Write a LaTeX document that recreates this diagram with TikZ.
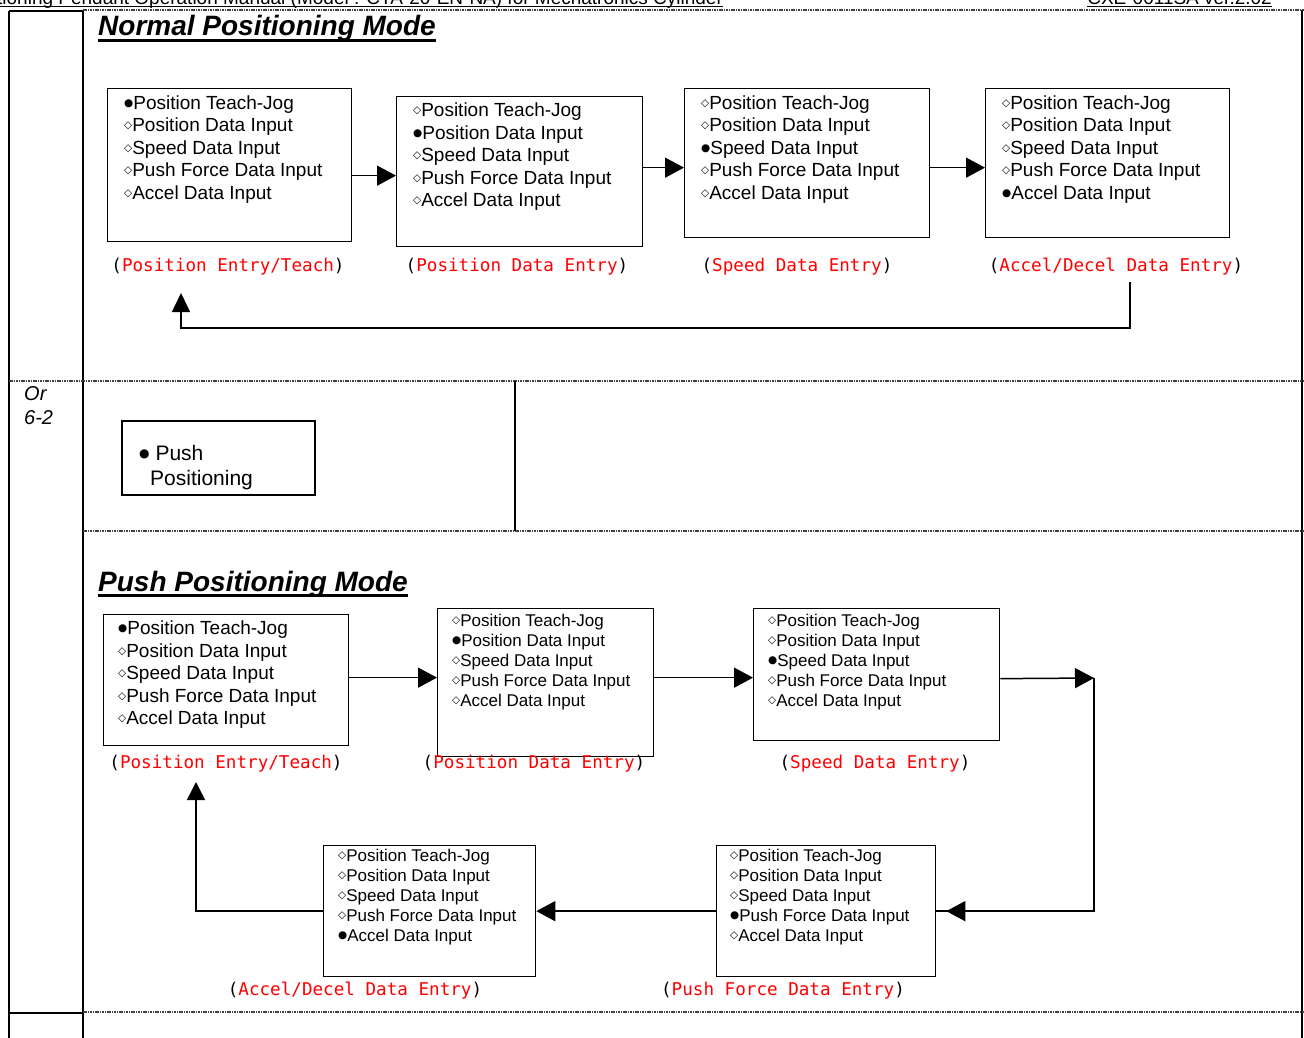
\documentclass[tikz,border=0pt]{standalone}
\usepackage{fontspec}
\setmainfont{Liberation Sans}
\newfontfamily\monof{DejaVu Sans Mono}
\newfontfamily\symf{DejaVu Sans}
\usetikzlibrary{arrows.meta,calc}
\newcommand\bon{\raisebox{0.3ex}{\symf\fontsize{10.5}{10.5}\selectfont ●}}
\newcommand\boff{\raisebox{0.3ex}{\symf\fontsize{10.5}{10.5}\selectfont ◇}}
\newcommand\lblred[1]{(\textcolor{red}{#1})}
\begin{document}
\begin{tikzpicture}[x=1pt,y=-1pt,
 box/.style={draw, line width=1.3pt, inner sep=0pt, anchor=north west},
 txl/.style={anchor=north west, inner sep=0pt, align=left, font=\fontsize{19}{22.5}\selectfont},
 txs/.style={anchor=north west, inner sep=0pt, align=left, font=\fontsize{17}{20}\selectfont},
 lbl/.style={inner sep=0pt, font=\monof\fontsize{17.6}{20}\selectfont},
 arr/.style={line width=1.5pt, -{Triangle[length=19pt,width=20pt]}},
 conn/.style={line width=1.5pt},
 solidl/.style={line width=2pt},
 dotl/.style={line width=1.6pt, black!75, dash pattern=on 1.6pt off 0.8pt},
 title/.style={inner sep=0pt, anchor=base west, font=\bfseries\itshape\fontsize{28}{32}\selectfont},
 plain/.style={inner sep=0pt, anchor=base west},
]
\useasboundingbox (0,0) rectangle (1304,1038);
\begin{scope}
\clip (0,0) rectangle (1304,1038);
% header
\node[plain, font=\fontsize{19}{20}\selectfont] (hd1) at (-40,4.5) {Positioning Pendant Operation Manual (Model : CTA-20-EN-NA) for Mechatronics Cylinder};
\draw[line width=1.3pt] ([yshift=-2pt]hd1.base west) -- ([yshift=-2pt]hd1.base east);
\node[plain, anchor=base east, font=\fontsize{19}{20}\selectfont] (hd2) at (1272,4.5) {CXE-0011SA ver.2.02};
\draw[line width=1.3pt] ([yshift=-2pt]hd2.base west) -- ([yshift=-2pt]hd2.base east);

% table lines
\draw[solidl] (9,11) -- (9,1038);
\draw[solidl] (83,11) -- (83,1038);
\draw[solidl] (9,11) -- (83,11);
\draw[solidl] (9,1013) -- (83,1013);
\draw[line width=1.5pt] (1302,10) -- (1302,1038);
\draw[dotl] (83,10) -- (1304,10);
\draw[dotl] (9,381) -- (1304,381);
\draw[dotl] (83,531) -- (1304,531);
\draw[dotl] (83,1012) -- (1304,1012);
\draw[line width=1.5pt] (515,381) -- (515,531);
\end{scope}

% left column text
\node[plain, font=\itshape\fontsize{20}{24}\selectfont] (or) at (24,400) {Or};
\node[plain, font=\itshape\fontsize{20}{24}\selectfont] (six) at (24,424) {6-2};

% titles
\node[title] (t1) at (98,36) {Normal Positioning Mode};
\draw[line width=2.6pt] ([yshift=-4.5pt]t1.base west) -- ([yshift=-4.5pt]t1.base east);
\node[title] (t2) at (98,591) {Push Positioning Mode};
\draw[line width=2.6pt] ([yshift=-4.5pt]t2.base west) -- ([yshift=-4.5pt]t2.base east);

% push positioning box
\node[box, line width=1.5pt, minimum width=193pt, minimum height=74pt] (pp) at (121,420) {};
\node[plain, font=\fontsize{21}{25}\selectfont] (ppa) at (139,460) {\raisebox{0.25ex}{\symf\fontsize{12}{12}\selectfont ●}\ Push};
\node[plain, font=\fontsize{21}{25}\selectfont] (ppb) at (150,485) {Positioning};

% ---------- normal mode ----------
\node[box, minimum width=244pt, minimum height=153pt] (b1) at (107,88) {};
\node[box, minimum width=246pt, minimum height=150pt] (b2) at (396,96) {};
\node[box, minimum width=245pt, minimum height=149pt] (b3) at (684,88) {};
\node[box, minimum width=244pt, minimum height=149pt] (b4) at (985,88) {};

\node[txl] (b1t) at (124,95.5) {\bon Position Teach-Jog\\\boff Position Data Input\\\boff Speed Data Input\\\boff Push Force Data Input\\\boff Accel Data Input};
\node[txl] (b2t) at (413,103) {\boff Position Teach-Jog\\\bon Position Data Input\\\boff Speed Data Input\\\boff Push Force Data Input\\\boff Accel Data Input};
\node[txl] (b3t) at (701,95.5) {\boff Position Teach-Jog\\\boff Position Data Input\\\bon Speed Data Input\\\boff Push Force Data Input\\\boff Accel Data Input};
\node[txl] (b4t) at (1002,95.5) {\boff Position Teach-Jog\\\boff Position Data Input\\\boff Speed Data Input\\\boff Push Force Data Input\\\bon Accel Data Input};

\node[lbl] (l1) at (228,267) {\lblred{Position Entry/Teach}};
\node[lbl] (l2) at (517,267) {\lblred{Position Data Entry}};
\node[lbl] (l3) at (797,267) {\lblred{Speed Data Entry}};
\node[lbl] (l4) at (1116,267) {\lblred{Accel/Decel Data Entry}};

\path ([yshift=-10.5pt]b1.east) coordinate (a1);
\draw[arr] (a1) -- (a1 -| b2.west);
\path ([yshift=4pt]b2.east) coordinate (a2);
\draw[arr] (a2) -- (a2 -| b3.west);
\path ([yshift=-4.5pt]b3.east) coordinate (a3);
\draw[arr] (a3) -- (a3 -| b4.west);
\coordinate (r1) at (1130,282);
\coordinate (r2) at (181,293);
\draw[line width=1.5pt, -{Triangle[length=19pt,width=18pt]}] (r1) -- ++(0,46) -| (r2);

% ---------- push mode ----------
\node[box, minimum width=245pt, minimum height=131pt] (p1) at (103,614) {};
\node[box, minimum width=216pt, minimum height=148pt] (p2) at (437,608) {};
\node[box, minimum width=246pt, minimum height=132pt] (p3) at (753,608) {};
\node[box, minimum width=219pt, minimum height=131pt] (p4) at (716,845) {};
\node[box, minimum width=212pt, minimum height=131pt] (p5) at (323,845) {};

\node[txl] (p1t) at (118,621) {\bon Position Teach-Jog\\\boff Position Data Input\\\boff Speed Data Input\\\boff Push Force Data Input\\\boff Accel Data Input};
\node[txs] (p2t) at (452,614) {\boff Position Teach-Jog\\\bon Position Data Input\\\boff Speed Data Input\\\boff Push Force Data Input\\\boff Accel Data Input};
\node[txs] (p3t) at (768,614) {\boff Position Teach-Jog\\\boff Position Data Input\\\bon Speed Data Input\\\boff Push Force Data Input\\\boff Accel Data Input};
\node[txs] (p4t) at (730,849) {\boff Position Teach-Jog\\\boff Position Data Input\\\boff Speed Data Input\\\bon Push Force Data Input\\\boff Accel Data Input};
\node[txs] (p5t) at (338,849) {\boff Position Teach-Jog\\\boff Position Data Input\\\boff Speed Data Input\\\boff Push Force Data Input\\\bon Accel Data Input};

\node[lbl] (pl1) at (226,764) {\lblred{Position Entry/Teach}};
\node[lbl] (pl2) at (534,764) {\lblred{Position Data Entry}};
\node[lbl] (pl3) at (875,764) {\lblred{Speed Data Entry}};
\node[lbl] (pl5) at (355,991) {\lblred{Accel/Decel Data Entry}};
\node[lbl] (pl4) at (783,991) {\lblred{Push Force Data Entry}};

\path ([yshift=2.5pt]p1.east) coordinate (q1);
\draw[arr] (q1) -- (q1 -| p2.west);
\path ([yshift=5pt]p2.east) coordinate (q2);
\draw[arr] (q2) -- (q2 -| p3.west);
\path ([yshift=-4pt]p3.east) coordinate (q3);
\coordinate (c1) at (1094,678);
\draw[arr] (q3) -- (c1);
\draw[conn] (c1) |- (p4.east);
\draw[arr, shorten >=10pt] (c1) |- (p4.east);
\draw[arr] (p4.west) -- (p5.east);
\coordinate (c2) at (196,782);
\draw[line width=1.5pt, -{Triangle[length=18pt,width=18pt]}] (p5.west) -| (c2);
\end{tikzpicture}
\end{document}
